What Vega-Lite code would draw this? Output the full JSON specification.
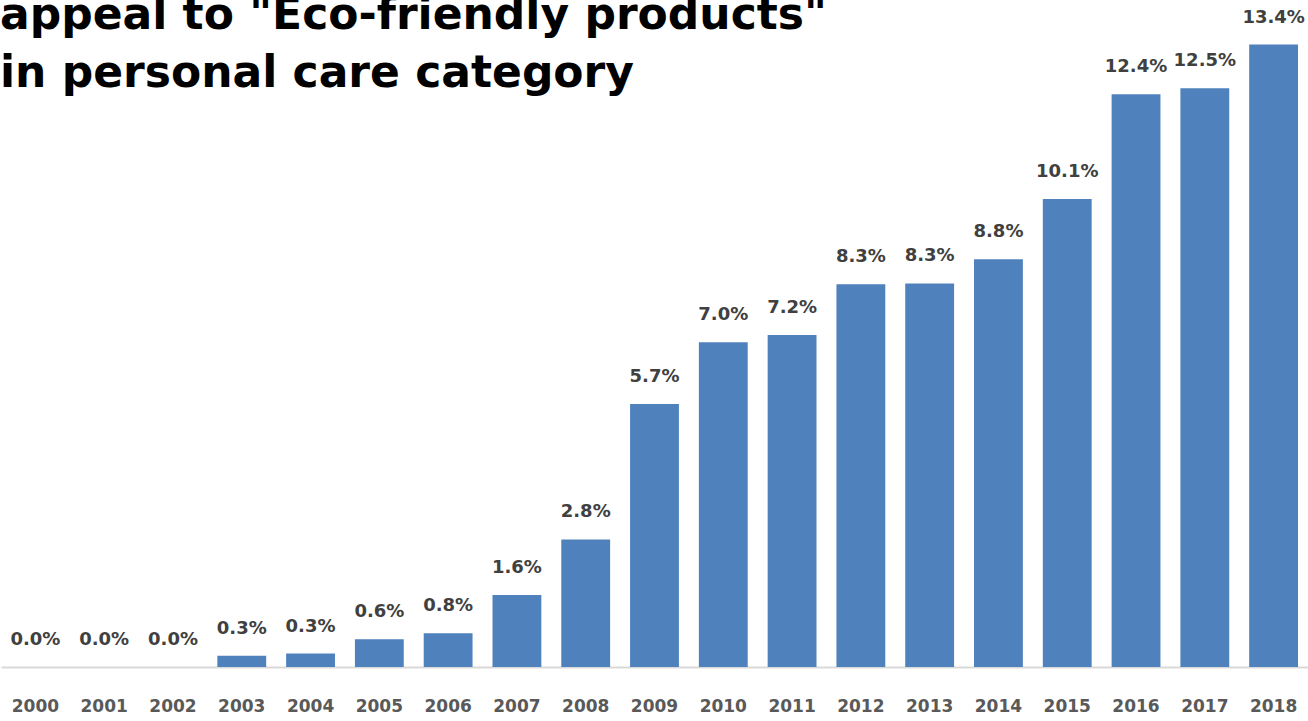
{
  "$schema": "https://vega.github.io/schema/vega-lite/v6.json",
  "width": 1307,
  "height": 667,
  "autosize": "none",
  "padding": {"left": 1, "top": 0, "right": 0, "bottom": 54},
  "background": "white",
  "title": {
    "text": ["appeal to \"Eco-friendly products\"", "in personal care category"],
    "anchor": "start",
    "frame": "group",
    "orient": "top",
    "offset": -96,
    "baseline": "top",
    "font": "DejaVu Sans",
    "fontSize": 44,
    "fontWeight": "bold",
    "color": "#000000",
    "lineHeight": 58,
    "dx": -1
  },
  "data": {
    "values": [
      {"year": "2000", "value": 0.0, "label": "0.0%"},
      {"year": "2001", "value": 0.0, "label": "0.0%"},
      {"year": "2002", "value": 0.0, "label": "0.0%"},
      {"year": "2003", "value": 0.24, "label": "0.3%"},
      {"year": "2004", "value": 0.29, "label": "0.3%"},
      {"year": "2005", "value": 0.6, "label": "0.6%"},
      {"year": "2006", "value": 0.73, "label": "0.8%"},
      {"year": "2007", "value": 1.55, "label": "1.6%"},
      {"year": "2008", "value": 2.75, "label": "2.8%"},
      {"year": "2009", "value": 5.67, "label": "5.7%"},
      {"year": "2010", "value": 7.0, "label": "7.0%"},
      {"year": "2011", "value": 7.16, "label": "7.2%"},
      {"year": "2012", "value": 8.25, "label": "8.3%"},
      {"year": "2013", "value": 8.27, "label": "8.3%"},
      {"year": "2014", "value": 8.79, "label": "8.8%"},
      {"year": "2015", "value": 10.09, "label": "10.1%"},
      {"year": "2016", "value": 12.35, "label": "12.4%"},
      {"year": "2017", "value": 12.48, "label": "12.5%"},
      {"year": "2018", "value": 13.42, "label": "13.4%"}
    ]
  },
  "encoding": {
    "x": {
      "field": "year",
      "type": "ordinal",
      "scale": {"paddingInner": 0.29, "paddingOuter": 0.145},
      "axis": {
        "title": null,
        "labelAngle": 0,
        "labelFont": "DejaVu Sans",
        "labelFontSize": 17,
        "labelFontWeight": "bold",
        "labelColor": "#595959",
        "labelPadding": 31,
        "ticks": false,
        "domainColor": "#d9d9d9",
        "domainWidth": 2,
        "grid": false
      }
    },
    "y": {
      "field": "value",
      "type": "quantitative",
      "scale": {"domain": [0, 14.38], "nice": false},
      "axis": null
    }
  },
  "layer": [
    {"mark": {"type": "bar", "color": "#4f81bd"}},
    {
      "mark": {
        "type": "text",
        "baseline": "alphabetic",
        "dy": -22,
        "font": "DejaVu Sans",
        "fontSize": 18,
        "fontWeight": "bold",
        "color": "#404040"
      },
      "encoding": {
        "text": {"field": "label", "type": "nominal"}
      }
    }
  ],
  "config": {"view": {"stroke": null}}
}
